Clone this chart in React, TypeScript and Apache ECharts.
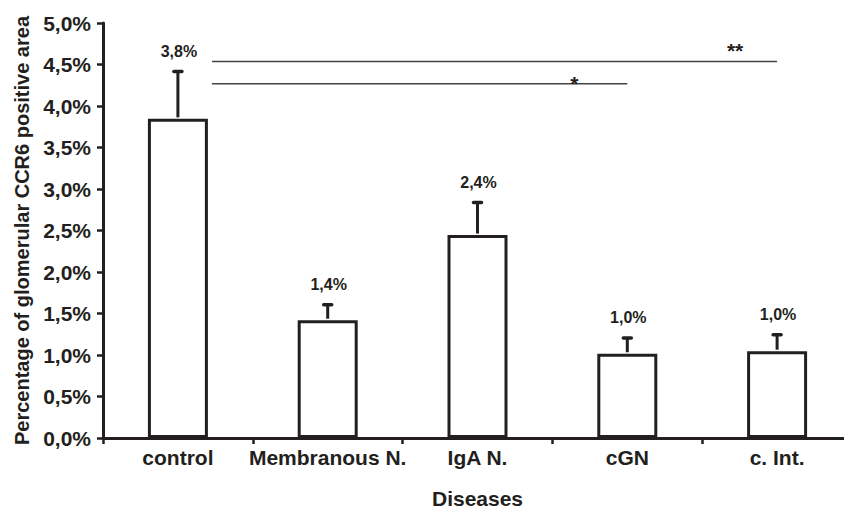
import React, { useEffect, useRef } from "react";
import * as echarts from "echarts";

const categories = ["control", "Membranous N.", "IgA N.", "cGN", "c. Int."];
const means = [3.845, 1.419, 2.445, 1.015, 1.046];
const errors = [0.582, 0.197, 0.404, 0.202, 0.21];
const valueLabels = ["3,8%", "1,4%", "2,4%", "1,0%", "1,0%"];
const sigTargets = [4, 3];
const sigLevels = [4.535, 4.267];
const sigMarks = ["**", "*"];

const INK = "#231f20";
const FONT = "Liberation Sans, Arial, Helvetica, sans-serif";
const starDx = [-42, -53];
const starDy = [-11, 0];

export default function App() {
  const ref = useRef<HTMLDivElement>(null);
  useEffect(() => {
    if (!ref.current) return;
    const chart = echarts.init(ref.current, undefined, { renderer: "svg" });
    const fmt = (v: number) => v.toFixed(1).replace(".", ",") + "%";
    chart.setOption({
      animation: false,
      backgroundColor: "#ffffff",
      textStyle: { fontFamily: FONT },
      grid: { left: 103, top: 23, width: 750, height: 430 },
      xAxis: {
        type: "category",
        data: categories,
        boundaryGap: true,
        name: "Diseases",
        nameLocation: "middle",
        nameGap: 50,
        nameTextStyle: { fontFamily: FONT, fontWeight: "bold", fontSize: 21, color: INK },
        axisLine: { lineStyle: { color: INK, width: 3 } },
        axisTick: { show: true, interval: 0, length: 6, lineStyle: { color: INK, width: 2.5 } },
        axisLabel: { interval: 0, margin: 9, fontFamily: FONT, fontWeight: "bold", fontSize: 21, color: INK },
        splitLine: { show: false },
      },
      yAxis: {
        type: "value",
        min: 0,
        max: 5,
        interval: 0.5,
        name: "Percentage of glomerular CCR6 positive area",
        nameLocation: "middle",
        nameGap: 71,
        nameTextStyle: { fontFamily: FONT, fontWeight: "bold", fontSize: 20, color: INK },
        axisLine: { show: true, lineStyle: { color: INK, width: 3 } },
        axisTick: { show: true, length: 6, lineStyle: { color: INK, width: 2.5 } },
        axisLabel: { margin: 12, formatter: fmt, fontFamily: FONT, fontWeight: "bold", fontSize: 21, color: INK },
        splitLine: { show: false },
      },
      series: [
        {
          type: "bar",
          data: means,
          barWidth: 60,
          itemStyle: { color: "#ffffff", borderColor: INK, borderWidth: 3 },
          z: 2,
        },
        {
          type: "custom",
          data: means.map((m, i) => [i, m, errors[i]]),
          z: 3,
          renderItem: (params: any, api: any) => {
            const i = api.value(0);
            const m = api.value(1);
            const e = api.value(2);
            const base = api.coord([i, m]);
            const top = api.coord([i, m + e]);
            return {
              type: "group",
              children: [
                {
                  type: "line",
                  shape: { x1: base[0], y1: base[1] - 1.5, x2: top[0], y2: top[1] },
                  style: { stroke: INK, lineWidth: 3 },
                },
                {
                  type: "line",
                  shape: { x1: top[0] - 4, y1: top[1] + 1, x2: top[0] + 4, y2: top[1] + 1 },
                  style: { stroke: INK, lineWidth: 3.5, lineCap: "round" },
                },
                {
                  type: "text",
                  style: {
                    x: top[0] + 1,
                    y: top[1] - 19,
                    text: valueLabels[params.dataIndex],
                    fill: INK,
                    font: "bold 16px " + FONT,
                    align: "center",
                    verticalAlign: "middle",
                  },
                },
              ],
            };
          },
        },
        {
          type: "custom",
          data: sigTargets.map((t, k) => [t, sigLevels[k]]),
          z: 3,
          renderItem: (params: any, api: any) => {
            const k = params.dataIndex;
            const t = api.value(0);
            const lvl = api.value(1);
            const start = api.coord([0, lvl]);
            const end = api.coord([t, lvl]);
            const x0 = start[0] + 34;
            return {
              type: "group",
              children: [
                {
                  type: "line",
                  shape: { x1: x0, y1: end[1], x2: end[0], y2: end[1] },
                  style: { stroke: "#444444", lineWidth: 1.5 },
                },
                {
                  type: "text",
                  style: {
                    x: end[0] + starDx[k],
                    y: end[1] + starDy[k],
                    text: sigMarks[k],
                    fill: INK,
                    font: "bold 21px " + FONT,
                    align: "center",
                    verticalAlign: "middle",
                  },
                },
              ],
            };
          },
        },
      ],
    });
    return () => chart.dispose();
  }, []);
  return <div ref={ref} style={{ width: 852, height: 514, margin: -8 }} />;
}
